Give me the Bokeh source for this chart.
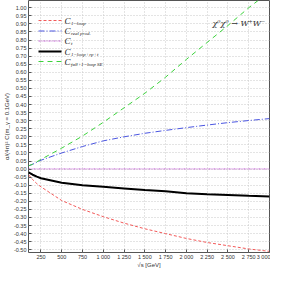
from bokeh.plotting import figure
from bokeh.models import (Range1d, FixedTicker, Label, Arrow)
from bokeh.embed import file_html
from bokeh.resources import INLINE

# ---- data ----
sqrt_s = [100, 150, 200, 250, 500, 750, 1000, 1250, 1500, 1750, 2000, 2250, 2500, 2750, 3000]
c_1loop = [-0.035, -0.065, -0.09, -0.11, -0.195, -0.25, -0.295, -0.335, -0.37, -0.40, -0.43, -0.455, -0.475, -0.495, -0.51]
c_real = [0.02, 0.03, 0.042, 0.055, 0.10, 0.14, 0.175, 0.20, 0.222, 0.24, 0.257, 0.273, 0.288, 0.301, 0.313]
c_t = [0.001, 0.001, 0.001, 0.001, 0.001, 0.001, 0.001, 0.001, 0.001, 0.001, 0.001, 0.001, 0.001, 0.001, 0.001]
c_sum = [-0.02, -0.035, -0.047, -0.057, -0.085, -0.10, -0.11, -0.12, -0.13, -0.138, -0.15, -0.156, -0.161, -0.166, -0.17]
c_full = [0.02, 0.03, 0.045, 0.06, 0.13, 0.205, 0.29, 0.38, 0.47, 0.57, 0.68, 0.785, 0.89, 1.0, 1.1]

x_ticks = [250, 500, 750, 1000, 1250, 1500, 1750, 2000, 2250, 2500, 2750, 3000]
x_tick_labels = ["250", "500", "750", "1 000", "1 250", "1 500", "1 750", "2 000", "2 250", "2 500", "2 750", "3 000"]
y_ticks = [round(-0.50 + 0.05 * i, 2) for i in range(31)]
y_tick_labels = ["%.2f" % t for t in y_ticks]

legend_labels = ["1−loop", "real prod.", "t", "1−loop+rp+t", "full+1−loop SE"]
title_text = "χ⁰χ⁰ → W⁺W⁻"
x_label = "√s [GeV]"
y_label = "α/(4π)² C(m_γ = 0.1GeV)"

# ---- styles ----
styles = [
    dict(color="#f25a5a", width=1.0, dash="3 2"),
    dict(color="#4a55e0", width=1.0, dash="6 2 1 2"),
    dict(color="#c060d0", width=1.0, dash="2 1 1 1"),
    dict(color="#000000", width=2.0, dash="solid"),
    dict(color="#3cd23c", width=1.0, dash="5 4"),
]
series = [c_1loop, c_real, c_t, c_sum, c_full]

p = figure(width=270, height=270, output_backend="svg", toolbar_location=None,
           x_range=Range1d(100, 3000), y_range=Range1d(-0.517, 1.045),
           min_border_left=22, min_border_right=1, min_border_top=0, min_border_bottom=0)
p.background_fill_color = "white"
p.outline_line_color = "#555555"
p.outline_line_width = 1

for ys, st in zip(series, styles):
    p.line(sqrt_s, ys, line_color=st["color"], line_width=st["width"], line_dash=st["dash"])

font = "Liberation Sans"
for ax in (p.xaxis[0], p.yaxis[0]):
    ax.major_label_text_font = font
    ax.major_label_text_font_size = "5.5px"
    ax.major_label_text_color = "#333333"
    ax.axis_line_color = None
    ax.major_tick_in = 3
    ax.major_tick_out = 0
    ax.minor_tick_in = 0
    ax.minor_tick_out = 0
    ax.major_tick_line_color = "#555555"
    ax.axis_label_text_font = font
    ax.axis_label_text_font_size = "6px"
    ax.axis_label_text_font_style = "normal"
    ax.axis_label_text_color = "#333333"

p.xaxis.major_label_standoff = 1
p.xaxis.axis_label_standoff = -1
p.yaxis.major_label_standoff = 2
p.yaxis.axis_label_standoff = 1

p.xaxis.ticker = FixedTicker(ticks=x_ticks)
p.xaxis.major_label_overrides = dict(zip(x_ticks, x_tick_labels))
p.xaxis.axis_label = x_label
p.yaxis.ticker = FixedTicker(ticks=y_ticks)
p.yaxis.major_label_overrides = dict(zip(y_ticks, y_tick_labels))
p.yaxis.axis_label = y_label

p.xgrid.ticker = FixedTicker(ticks=x_ticks)
p.ygrid.ticker = FixedTicker(ticks=y_ticks)
for g in (p.xgrid[0], p.ygrid[0]):
    g.grid_line_color = "#c8c8c8"
    g.grid_line_dash = "1 2"
    g.grid_line_width = 1

# ---- hand-made legend (frame-relative screen units, y from frame bottom) ----
row_y = [232, 221.5, 211.5, 201, 191]
for st, lab, yy in zip(styles, legend_labels, row_y):
    p.add_layout(Arrow(x_start=10, y_start=yy, x_end=33, y_end=yy,
                       start_units="screen", end_units="screen", end=None, start=None,
                       line_color=st["color"], line_width=st["width"], line_dash=st["dash"]))
    p.add_layout(Label(x=36, y=yy, x_units="screen", y_units="screen", text="C",
                       text_font="Liberation Serif", text_font_style="italic",
                       text_font_size="9px", text_baseline="middle", text_color="#222222"))
    p.add_layout(Label(x=42.5, y=yy - 2.5, x_units="screen", y_units="screen", text=lab,
                       text_font="Liberation Serif", text_font_style="italic",
                       text_font_size="5px", text_baseline="middle", text_color="#222222"))

p.add_layout(Label(x=184, y=229, x_units="screen", y_units="screen", text=title_text,
                   text_font="DejaVu Serif", text_font_style="italic",
                   text_font_size="8px", text_align="left", text_baseline="middle",
                   text_color="#333333"))

open("out.html", "w").write(file_html(p, INLINE))
